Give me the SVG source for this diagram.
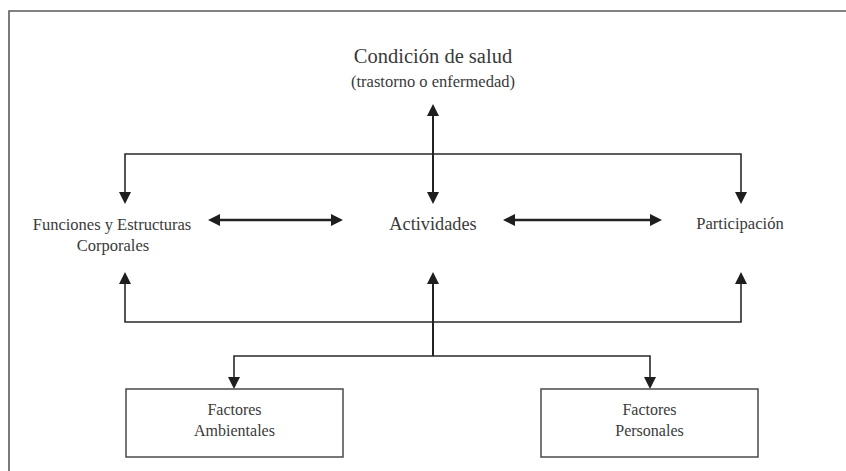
<svg xmlns="http://www.w3.org/2000/svg" width="846" height="471" viewBox="0 0 846 471">
  <style>
    text { font-family: "Liberation Serif", "DejaVu Serif", serif; fill: #3a3a3a; text-anchor: middle; }
    .frame { fill: none; stroke: #5a5a5a; stroke-width: 1.6; }
    .line { fill: none; stroke: #2a2a2a; stroke-width: 1.6; }
    .shaft { fill: none; stroke: #222; stroke-width: 2; }
    .dbl { fill: none; stroke: #222; stroke-width: 2.6; }
    .head { fill: #1e1e1e; stroke: none; }
    .box { fill: #fff; stroke: #4a4a4a; stroke-width: 1.5; }
  </style>
  <rect x="0" y="0" width="846" height="471" fill="#fff"/>
  <path class="frame" d="M9,471 V11 H846"/>

  <g id="connectors">
    <!-- top distribution line -->
    <path class="line" d="M125,193 V154 H741 V193"/>
    <polygon class="head" points="119,192 131,192 125,204"/>
    <polygon class="head" points="735,192 747,192 741,204"/>
    <!-- center vertical between Condicion and Actividades -->
    <path class="shaft" d="M433,115 V193"/>
    <polygon class="head" points="427,116 439,116 433,104"/>
    <polygon class="head" points="427,192 439,192 433,204"/>
    <!-- horizontal double arrows -->
    <path class="dbl" d="M219,220 H332"/>
    <polygon class="head" points="220,214 220,226 208,220"/>
    <polygon class="head" points="331,214 331,226 343,220"/>
    <path class="dbl" d="M514,220 H651"/>
    <polygon class="head" points="515,214 515,226 503,220"/>
    <polygon class="head" points="650,214 650,226 662,220"/>
    <!-- bottom collecting line -->
    <path class="line" d="M125,283 V322 H741 V283"/>
    <polygon class="head" points="119,284 131,284 125,272"/>
    <polygon class="head" points="735,284 747,284 741,272"/>
    <path class="shaft" d="M433,356 V283"/>
    <polygon class="head" points="427,284 439,284 433,272"/>
    <!-- lower split line to factors -->
    <path class="line" d="M234,378 V356 H650 V378"/>
    <polygon class="head" points="228,377 240,377 234,389"/>
    <polygon class="head" points="644,377 656,377 650,389"/>
  </g>

  <g id="condicion">
    <text x="433" y="63" font-size="20.5">Condición de salud</text>
    <text x="433" y="87" font-size="16.5">(trastorno o enfermedad)</text>
  </g>
  <g id="funciones">
    <text x="112" y="230" font-size="16.5">Funciones y Estructuras</text>
    <text x="113" y="251" font-size="16.5">Corporales</text>
  </g>
  <g id="actividades">
    <text x="433" y="230" font-size="18.3">Actividades</text>
  </g>
  <g id="participacion">
    <text x="740" y="229" font-size="16.6">Participación</text>
  </g>
  <g id="ambientales">
    <rect class="box" x="126" y="389" width="217" height="68"/>
    <text x="234.5" y="415" font-size="16">Factores</text>
    <text x="234.5" y="436" font-size="16">Ambientales</text>
  </g>
  <g id="personales">
    <rect class="box" x="541" y="389" width="217" height="68"/>
    <text x="649.5" y="415" font-size="16">Factores</text>
    <text x="649.5" y="436" font-size="16">Personales</text>
  </g>
</svg>
